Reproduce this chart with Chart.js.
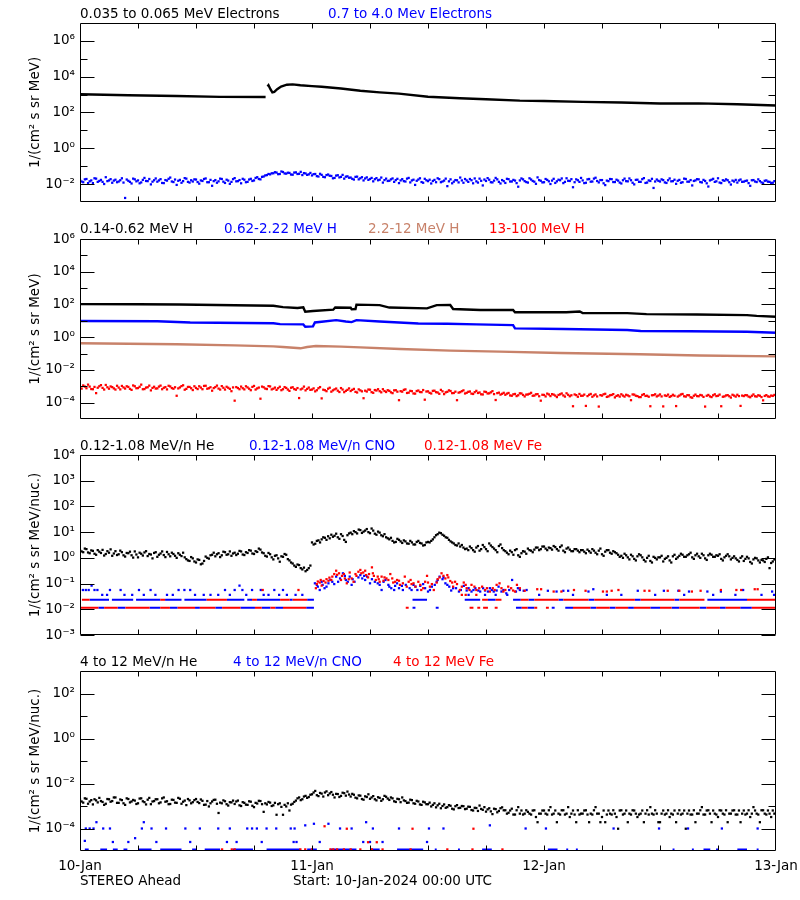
<!DOCTYPE html>
<html>
<head>
<meta charset="utf-8">
<title>STEREO Ahead particle fluxes</title>
<script src="https://cdn.jsdelivr.net/npm/chart.js@4.4.1/dist/chart.umd.min.js"></script>
<style>
  body { margin: 0; background: #fff; }
  #wrap { position: relative; width: 800px; height: 900px; background: #fff; overflow: hidden; }
  #wrap canvas { position: absolute; left: 0; }
</style>
</head>
<body>
<div id="wrap">
  <canvas id="electrons" width="800" height="215" style="top:0px"></canvas>
  <canvas id="protons" width="800" height="220" style="top:215px"></canvas>
  <canvas id="ionsLow" width="800" height="215" style="top:435px"></canvas>
  <canvas id="ionsHigh" width="800" height="250" style="top:650px"></canvas>
</div>
<script>
// time axis: hours since 10-Jan-2024 00:00 UTC
var dayLabels = ['10-Jan', '11-Jan', '12-Jan', '13-Jan'];
var dayHours = [0, 24, 48, 72];
var hourTicks = [6, 12, 18, 24, 30, 36, 42, 48, 54, 60, 66];
var STEP = 1 / 6; // noisy channels: one sample every 10 minutes

// y ticks, as powers of ten
var p1Major = [-2, 0, 2, 4, 6], p1Minor = [-1, 1, 3, 5];
var p2Major = [-4, -2, 0, 2, 4, 6], p2Minor = [-3, -1, 1, 3, 5];
var p3Major = [-3, -2, -1, 0, 1, 2, 3, 4], p3Minor = [];
var p4Major = [-4, -2, 0, 2], p4Minor = [-3, -1, 1];

// ---- panel 1: electrons (log10 of flux) ----
var eLowHours = [0, 5, 10, 14.5, 19.2, 19.35, 19.4, 19.5, 19.7, 19.9, 20.1, 20.4, 20.8, 21.4, 22.0, 22.8, 24, 25, 27, 29, 31, 33, 36, 39.3, 42, 45.5, 48, 52, 56, 60, 64, 68, 72];
var eLowLogs = [3.02, 2.96, 2.92, 2.87, 2.86, null, 3.45, 3.52, 3.3, 3.12, 3.15, 3.3, 3.45, 3.55, 3.57, 3.52, 3.47, 3.44, 3.34, 3.21, 3.12, 3.05, 2.88, 2.79, 2.74, 2.66, 2.64, 2.59, 2.56, 2.5, 2.51, 2.46, 2.39];
var eHighLogs = [
  -1.78,-1.86,-1.90,-1.74,-1.72,-1.95,-1.85,-1.80,-1.95,-1.68,-1.70,-1.88,-1.83,-1.77,-1.88,-2.00,-1.62,-1.84,-1.80,-1.73,-1.93,-1.81,-1.76,-1.90,
  -1.86,-1.79,-1.68,-1.92,-2.78,-1.75,-1.82,-1.88,-1.97,-1.70,-1.74,-1.85,-1.80,-1.96,-1.91,-1.77,-1.66,-1.83,-1.84,-1.72,-2.02,-1.87,-1.79,-1.69,
  -1.87,-1.80,-1.73,-1.94,-1.95,-1.78,-1.81,-1.71,-1.64,-1.86,-1.89,-1.75,-2.05,-1.82,-1.77,-1.93,-1.84,-1.67,-1.70,-1.88,-1.92,-1.79,-1.86,-1.74,
  -1.75,-1.89,-1.98,-1.80,-1.83,-1.72,-1.69,-1.90,-1.90,-1.77,-2.10,-1.84,-1.78,-1.93,-1.85,-1.70,-1.72,-1.87,-1.94,-1.76,-1.81,-1.99,-1.88,-1.73,
  -1.67,-1.85,-1.84,-1.78,-1.96,-1.71,-1.76,-1.90,-1.88,-1.75,-1.71,-1.83,-1.80,-1.66,-1.62,-1.72,-1.74,-1.60,-1.58,-1.52,-1.50,-1.44,-1.46,-1.40,
  -1.40,-1.34,-1.36,-1.45,-1.44,-1.30,-1.33,-1.41,-1.42,-1.37,-1.38,-1.47,-1.48,-1.36,-1.35,-1.44,-1.43,-1.32,-1.50,-1.39,-1.41,-1.49,-1.46,-1.38,
  -1.52,-1.45,-1.44,-1.56,-1.58,-1.43,-1.49,-1.60,-1.62,-1.50,-1.47,-1.54,-1.55,-1.68,-1.66,-1.53,-1.51,-1.63,-1.60,-1.49,-1.70,-1.59,-1.57,-1.65,
  -1.64,-1.71,-1.75,-1.60,-1.59,-1.74,-1.68,-1.62,-1.80,-1.69,-1.63,-1.77,-1.72,-1.66,-1.85,-1.73,-1.67,-1.79,-1.76,-1.64,-1.92,-1.78,-1.70,-1.83,
  -1.82,-1.74,-1.69,-1.88,-1.78,-1.71,-1.95,-1.80,-1.73,-1.84,-1.86,-1.70,-1.66,-1.91,-1.80,-1.76,-2.05,-1.82,-1.75,-1.68,-1.89,-1.93,-1.71,-1.79,
  -1.84,-1.76,-1.97,-1.83,-1.77,-1.90,-1.68,-1.73,-1.90,-1.86,-1.81,-1.70,-2.12,-1.85,-1.74,-1.96,-1.87,-1.78,-1.79,-1.91,-1.64,-1.80,-1.93,-1.72,
  -1.80,-1.88,-1.72,-1.79,-1.96,-1.69,-1.85,-1.92,-1.70,-1.82,-2.08,-1.75,-1.83,-1.67,-1.76,-1.90,-1.91,-1.81,-1.66,-1.74,-1.88,-1.97,-1.78,-1.84,
  -1.94,-1.71,-1.73,-1.86,-1.86,-1.77,-1.81,-1.95,-2.15,-1.80,-1.69,-1.74,-1.84,-1.89,-1.92,-1.68,-1.75,-1.83,-1.87,-1.99,-1.63,-1.78,-1.82,-1.91,
  -1.90,-1.72,-1.77,-1.85,-2.00,-1.81,-1.71,-1.94,-1.85,-1.76,-1.79,-1.69,-1.95,-1.88,-1.68,-1.82,-1.83,-1.73,-2.18,-1.90,-1.74,-1.79,-1.88,-1.66,
  -1.80,-1.95,-1.93,-1.74,-1.72,-1.87,-1.86,-1.70,-1.65,-1.83,-1.91,-1.78,-1.78,-1.96,-2.06,-1.81,-1.84,-1.72,-1.73,-1.89,-1.89,-1.76,-1.81,-1.92,
  -1.97,-1.79,-1.70,-1.84,-1.85,-1.69,-1.79,-1.93,-2.02,-1.77,-1.76,-1.88,-1.88,-1.73,-1.67,-1.94,-1.92,-1.80,-1.83,-1.71,-2.22,-1.86,-1.75,-1.82,
  -1.86,-1.74,-1.78,-1.91,-1.94,-1.79,-1.69,-1.85,-1.84,-1.76,-1.99,-1.82,-1.77,-1.93,-1.90,-1.70,-1.72,-1.87,-1.87,-1.78,-2.08,-1.83,-1.80,-1.73,
  -1.74,-1.89,-1.91,-1.77,-1.83,-1.96,-2.14,-1.80,-1.76,-1.71,-1.88,-1.85,-1.68,-1.92,-1.95,-1.79,-1.82,-1.74,-1.79,-1.90,-2.03,-1.81,-1.86,-1.77,
  -1.92,-1.80,-1.75,-1.88,-1.87,-1.83,-1.81,-1.95,-2.10,-1.79,-1.78,-1.86,-1.89,-1.74,-1.84,-1.91,-1.96,-1.82,-1.80,-1.87,-1.88,-1.94,-1.93,-1.84,
  -1.85];

// ---- panel 2: protons ----
var h014Hours = [0, 6, 10.3, 16, 20, 21, 22.5, 23.1, 23.3, 24.1, 26.2, 26.4, 28.0, 28.1, 28.5, 28.6, 31, 32, 35.9, 36.9, 38.3, 38.6, 41.4, 44.8, 45, 50.3, 51.7, 52, 56.6, 58.6, 63.8, 69, 70, 72];
var h014Logs = [2.02, 2.01, 2.0, 1.95, 1.92, 1.84, 1.78, 1.82, 1.56, 1.6, 1.68, 1.81, 1.8, 1.7, 1.72, 1.99, 1.96, 1.81, 1.76, 1.96, 1.97, 1.72, 1.66, 1.66, 1.52, 1.52, 1.57, 1.48, 1.47, 1.41, 1.39, 1.35, 1.3, 1.25];
var h062Hours = [0, 8, 11.4, 20, 20.7, 23.1, 23.3, 24.1, 24.3, 25, 26.5, 27.5, 28.1, 28.6, 31, 33, 35, 38, 41, 44.8, 45, 50, 56.6, 58, 63, 69, 72];
var h062Logs = [0.99, 0.97, 0.9, 0.85, 0.8, 0.78, 0.64, 0.66, 0.9, 0.94, 1.04, 0.96, 0.92, 1.04, 0.96, 0.9, 0.84, 0.82, 0.78, 0.74, 0.54, 0.5, 0.44, 0.38, 0.36, 0.33, 0.27];
var h22Hours = [0, 10, 16, 20, 21, 22.8, 23.5, 24.4, 27, 29, 33.1, 38.3, 43.4, 49.7, 57.9, 64.1, 72];
var h22Logs = [-0.37, -0.43, -0.5, -0.56, -0.6, -0.68, -0.6, -0.54, -0.58, -0.62, -0.72, -0.82, -0.88, -0.97, -1.04, -1.12, -1.17];
var h13Logs = [
  -3.05,-3.14,-2.95,-3.02,-3.12,-2.90,-3.02,-3.17,-3.18,-3.04,-3.42,-3.09,-3.00,-2.93,-3.10,-3.20,-2.92,-3.06,-3.15,-3.01,-3.05,-3.13,-3.20,-2.97,
  -3.08,-3.19,-2.98,-3.07,-3.14,-3.00,-3.04,-3.16,-3.22,-2.95,-3.00,-3.12,-3.11,-3.03,-2.90,-3.18,-3.17,-3.08,-3.06,-2.96,-3.25,-3.10,-3.03,-3.14,
  -3.13,-3.02,-2.96,-3.18,-3.09,-3.05,-3.19,-2.97,-3.01,-3.11,-3.15,-3.06,-3.58,-3.13,-3.07,-2.99,-2.94,-3.21,-3.16,-3.04,-3.04,-3.12,-3.23,-3.00,
  -3.10,-3.17,-3.00,-3.08,-3.18,-2.98,-2.97,-3.15,-3.12,-3.06,-3.27,-3.11,-3.05,-2.96,-3.14,-3.20,-2.99,-3.09,-3.20,-3.03,-3.09,-3.16,-3.30,-3.07,
  -3.88,-3.05,-3.11,-3.18,-3.02,-3.12,-3.19,-3.00,-3.07,-3.15,-3.24,-3.04,-2.98,-3.20,-3.13,-3.08,-3.76,-3.02,-3.06,-3.14,-3.17,-2.99,-3.01,-3.19,
  -3.15,-3.08,-3.22,-3.12,-3.03,-3.24,-3.18,-3.05,-3.10,-3.20,-3.28,-3.09,-3.06,-3.17,-3.21,-3.11,-3.72,-3.19,-3.14,-3.02,-3.25,-3.16,-3.08,-3.22,
  -3.20,-3.13,-3.31,-3.24,-3.12,-3.05,-3.74,-3.21,-3.24,-3.30,-3.15,-3.09,-3.33,-3.25,-3.19,-3.14,-3.27,-3.35,-3.11,-3.20,-3.36,-3.28,-3.22,-3.13,
  -3.29,-3.22,-3.16,-3.34,-3.38,-3.19,-3.25,-3.31,-3.73,-3.27,-3.32,-3.20,-3.21,-3.36,-3.40,-3.23,-3.26,-3.18,-3.30,-3.37,-3.18,-3.29,-3.35,-3.24,
  -3.28,-3.37,-3.42,-3.25,-3.24,-3.33,-3.85,-3.30,-3.33,-3.22,-3.19,-3.41,-3.39,-3.28,-3.30,-3.44,-3.45,-3.29,-3.26,-3.35,-3.36,-3.23,-3.82,-3.32,
  -3.31,-3.40,-3.44,-3.28,-3.27,-3.36,-3.38,-3.46,-3.22,-3.31,-3.48,-3.37,-3.34,-3.25,-3.29,-3.42,-3.41,-3.33,-3.85,-3.39,-3.36,-3.30,-3.25,-3.44,
  -3.40,-3.34,-3.32,-3.45,-3.47,-3.36,-3.28,-3.41,-3.38,-3.49,-3.50,-3.33,-3.35,-3.44,-3.43,-3.37,-3.30,-3.48,-3.84,-3.42,-3.39,-3.51,-3.46,-3.40,
  -3.52,-3.45,-3.41,-3.56,-3.58,-3.49,-3.47,-3.60,-3.55,-3.43,-3.44,-3.53,-3.62,-3.51,-3.50,-3.46,-3.40,-3.58,-3.57,-3.49,-3.48,-3.61,-3.88,-3.52,
  -3.53,-3.62,-3.45,-3.50,-3.60,-3.48,-3.51,-3.57,-3.66,-3.53,-3.49,-3.44,-3.56,-3.63,-3.43,-3.52,-3.61,-3.55,-4.22,-3.50,-3.54,-3.64,-3.47,-3.58,
  -3.58,-3.51,-4.20,-3.60,-3.52,-3.47,-3.64,-3.56,-3.50,-3.62,-4.24,-3.54,-3.57,-3.49,-3.46,-3.65,-3.62,-3.55,-3.53,-3.48,-3.68,-3.59,-3.55,-3.63,
  -3.49,-3.57,-3.63,-3.52,-3.56,-3.61,-3.85,-3.50,-3.51,-3.58,-3.60,-3.66,-3.66,-3.53,-3.48,-3.59,-3.58,-3.64,-4.22,-3.55,-3.54,-3.49,-3.62,-3.57,
  -3.50,-3.62,-4.23,-3.56,-3.59,-3.51,-3.65,-3.60,-3.52,-3.58,-4.21,-3.63,-3.57,-3.50,-3.47,-3.61,-3.63,-3.54,-3.55,-3.67,-3.70,-3.58,-3.51,-3.60,
  -3.61,-3.53,-3.56,-3.65,-4.24,-3.58,-3.53,-3.62,-3.66,-3.55,-3.49,-3.60,-3.58,-3.51,-4.22,-3.64,-3.62,-3.56,-3.54,-3.61,-3.69,-3.52,-3.57,-3.63,
  -3.52,-3.60,-4.20,-3.57,-3.60,-3.54,-3.55,-3.63,-3.67,-3.58,-3.50,-3.61,-3.63,-3.55,-3.58,-3.66,-3.86,-3.59,-3.54,-3.62,-3.64,-3.57,-3.59,-3.53,
  -3.56];

// ---- panel 3: 0.12-1.08 MeV/n ions ----
var heLowLogs = [
  0.30,0.25,0.22,0.36,0.34,0.21,0.18,0.29,0.27,0.16,0.12,0.30,0.24,0.19,0.31,0.09,0.15,0.26,0.20,0.33,0.08,0.17,0.26,0.11,
  0.14,0.28,0.22,0.10,0.05,0.19,0.18,0.24,0.10,0.01,0.25,0.13,0.02,0.20,0.16,0.09,0.21,0.26,0.07,0.15,0.13,-0.02,0.19,0.22,
  0.04,0.12,0.17,0.25,0.11,0.03,0.23,0.14,0.06,0.20,0.15,0.08,0.00,0.18,0.12,0.07,0.20,0.02,-0.05,-0.10,-0.12,0.03,-0.02,-0.14,
  -0.18,-0.06,-0.08,-0.25,-0.22,-0.12,0.05,0.00,-0.03,0.10,0.12,0.20,0.06,0.14,0.18,0.03,0.10,0.24,0.22,0.12,0.14,0.25,0.08,0.17,
  0.20,0.11,0.16,0.27,0.25,0.13,0.11,0.22,0.19,0.30,0.28,0.17,0.15,0.26,0.23,0.36,0.32,0.21,0.18,0.08,0.05,0.19,0.14,0.02,
  -0.06,0.08,0.10,-0.02,-0.15,0.06,0.04,0.15,0.12,-0.05,-0.10,-0.18,-0.22,-0.30,-0.35,-0.26,-0.28,-0.40,-0.45,-0.38,-0.52,-0.47,-0.40,-0.30,
  0.60,0.52,0.55,0.66,0.68,0.60,0.72,0.80,0.78,0.70,0.84,0.76,0.90,0.82,0.86,0.94,0.80,0.74,0.92,0.85,0.70,0.62,0.88,0.95,
  0.98,0.92,1.04,1.00,0.95,1.10,1.08,0.97,1.02,1.06,1.12,1.00,0.96,1.14,1.06,0.94,0.90,1.02,0.98,0.88,0.84,0.92,0.80,0.76,
  0.72,0.78,0.66,0.60,0.62,0.74,0.70,0.64,0.58,0.68,0.64,0.56,0.55,0.66,0.60,0.52,0.52,0.62,0.66,0.58,0.56,0.48,0.50,0.60,
  0.62,0.60,0.66,0.72,0.80,0.88,0.92,0.98,0.96,0.90,0.86,0.80,0.78,0.70,0.64,0.60,0.56,0.50,0.48,0.56,0.44,0.50,0.40,0.34,
  0.36,0.30,0.44,0.38,0.30,0.24,0.40,0.46,0.28,0.34,0.50,0.42,0.34,0.26,0.56,0.48,0.42,0.36,0.30,0.22,0.46,0.52,0.38,0.30,
  0.26,0.20,0.14,0.28,0.22,0.12,0.30,0.34,0.10,0.04,0.18,0.26,0.24,0.16,0.36,0.30,0.28,0.22,0.32,0.40,0.40,0.30,0.34,0.44,
  0.44,0.36,0.30,0.40,0.38,0.32,0.46,0.42,0.34,0.28,0.42,0.48,0.28,0.22,0.36,0.40,0.32,0.26,0.26,0.34,0.34,0.28,0.22,0.30,
  0.30,0.24,0.18,0.32,0.26,0.20,0.34,0.28,0.20,0.14,0.28,0.36,0.14,0.08,0.24,0.30,0.30,0.20,0.16,0.26,0.22,0.18,0.12,0.04,
  0.08,0.00,0.16,0.10,0.02,-0.06,0.12,0.06,-0.04,-0.10,0.06,0.14,0.10,0.02,-0.08,-0.14,0.00,0.08,-0.12,-0.18,0.04,0.00,-0.06,0.02,
  0.02,0.08,-0.14,-0.04,0.00,0.06,-0.10,-0.18,0.06,0.12,-0.04,0.02,0.08,0.16,0.12,0.04,0.04,0.10,0.14,0.20,0.02,-0.04,0.10,0.16,
  0.06,0.00,0.16,0.10,-0.02,-0.08,0.10,0.16,0.12,0.04,0.04,0.10,0.08,0.14,-0.04,-0.10,0.02,0.08,0.14,0.06,-0.06,0.00,0.06,-0.02,
  -0.08,-0.14,0.00,0.06,-0.12,-0.04,0.04,-0.02,-0.16,-0.22,-0.06,0.00,-0.02,-0.10,-0.18,-0.08,-0.10,-0.16,-0.04,0.02,-0.40,-0.20,-0.14,-0.06,
  -0.08];
// [hour, log10 flux] for the scattered CNO and Fe samples
var cnoLowPoints = [
  [0.3,-1.25],[0.6,-1.25],[0.9,-1.25],[1.2,-1.08],[1.5,-1.25],[1.8,-1.25],[2.3,-1.44],[2.8,-1.44],[3.1,-1.25],[4.2,-1.25],
  [4.6,-1.44],[5.4,-1.44],[6.1,-1.25],[6.6,-1.44],[7.3,-1.25],[7.8,-1.44],[9.0,-1.44],[9.6,-1.44],[10.2,-1.25],[10.8,-1.25],
  [11.4,-1.25],[11.9,-1.44],[12.8,-1.44],[13.5,-1.44],[14.3,-1.44],[15.0,-1.25],[15.5,-1.44],[16.0,-1.25],[16.5,-1.08],[16.8,-1.25],
  [17.2,-1.44],[17.8,-1.25],[18.7,-1.25],[19.0,-1.44],[19.5,-1.44],[20.1,-1.25],[20.6,-1.44],[21.0,-1.25],[21.4,-1.44],[22.3,-1.44],[23.0,-1.44],
  [24.3,-0.99],[24.6,-1.12],[24.8,-1.25],[25.1,-1.05],[25.3,-1.18],[25.7,-0.99],[26.1,-0.93],[26.5,-0.73],[26.7,-0.93],[27.2,-0.60],
  [27.5,-0.86],[27.9,-0.73],[28.1,-1.05],[28.4,-0.93],[29.0,-0.67],[29.2,-0.80],[29.5,-0.86],[29.7,-0.73],[30.0,-0.99],[30.5,-0.93],
  [31.0,-1.05],[31.2,-1.25],[31.6,-0.86],[31.9,-1.05],[32.2,-1.18],[32.5,-1.25],[32.8,-0.99],[33.3,-1.09],[33.4,-1.25],[34.1,-1.18],
  [34.5,-1.05],[34.9,-1.25],[35.2,-1.09],[35.7,-1.18],[36.0,-1.31],[36.4,-1.12],[36.9,-0.93],[37.2,-0.73],[37.5,-0.83],[37.8,-0.99],
  [38.2,-1.12],[38.4,-1.27],[38.9,-1.18],[39.2,-1.31],[39.7,-1.09],[40.0,-1.27],[40.5,-1.31],[40.9,-1.18],[41.4,-1.31],[41.9,-1.27],
  [42.4,-1.18],[42.8,-1.31],[43.3,-1.12],[43.8,-1.25],[44.1,-1.38],[44.7,-0.86],[45.1,-1.31],[45.5,-1.25],
  [24.5,-1.05],[25.0,-0.93],[25.5,-1.12],[25.9,-0.86],[26.3,-1.02],[26.9,-0.80],[27.4,-0.70],[27.7,-0.93],[28.2,-0.83],[28.8,-0.76],
  [29.4,-0.70],[30.2,-0.83],[30.8,-0.99],[31.4,-0.93],[32.0,-1.12],[32.6,-1.09],[33.0,-1.18],[33.7,-1.05],[34.3,-1.25],[34.7,-1.12],
  [35.5,-1.02],[36.2,-1.25],[36.7,-1.05],[37.0,-0.86],[37.6,-0.76],[38.0,-1.05],[38.6,-1.18],[39.4,-1.25],[40.2,-1.18],[40.7,-1.25],
  [41.2,-1.27],[41.7,-1.18],[42.2,-1.31],[42.6,-1.25],[43.1,-1.27],[43.6,-1.31],[44.4,-1.25],[45.3,-1.18],
  [40.2,-1.44],[41.9,-1.44],[43.0,-1.44],[44.2,-1.44],[45.9,-1.28],[46.2,-1.25],[47.5,-1.44],[48.4,-1.28],[49.3,-1.31],[50.0,-1.28],
  [50.5,-1.28],[51.0,-1.44],[52.6,-1.31],[53.1,-1.22],[54.5,-1.44],[56.0,-1.44],[57.7,-1.28],[59.5,-1.44],[60.4,-1.28],[61.9,-1.28],
  [62.5,-1.44],[63.0,-1.31],[64.9,-1.31],[65.5,-1.44],[66.3,-1.31],[67.8,-1.44],[68.6,-1.25],[70.5,-1.44],[71.6,-1.31],[71.8,-1.44]];
var feLowPoints = [
  [18.9,-1.25],[22.6,-1.25],
  [24.4,-1.18],[24.6,-0.92],[24.9,-0.86],[25.2,-0.90],[25.5,-0.83],[25.8,-0.77],[26.0,-0.86],[26.3,-0.63],[26.5,-0.50],[26.8,-0.60],
  [27.1,-0.70],[27.4,-0.80],[27.6,-0.99],[27.9,-0.57],[28.3,-0.93],[28.6,-0.70],[28.8,-0.54],[29.0,-0.47],[29.3,-0.57],[29.6,-0.67],
  [29.8,-0.76],[30.2,-0.37],[30.3,-0.60],[30.6,-0.86],[30.9,-0.83],[31.2,-0.73],[31.4,-0.89],[31.7,-0.80],[32.1,-0.63],[32.4,-0.96],
  [32.8,-0.86],[33.1,-1.05],[33.6,-0.73],[33.8,-1.12],[34.0,-0.93],[34.3,-1.02],[34.7,-1.12],[35.0,-0.93],[35.3,-1.25],[35.5,-1.18],
  [35.9,-0.70],[36.2,-1.12],[36.6,-1.25],[36.9,-0.96],[37.2,-0.76],[37.4,-0.60],[37.8,-0.80],[38.0,-0.67],[38.3,-0.90],[38.6,-1.12],
  [39.0,-1.02],[39.3,-1.25],[39.7,-0.96],[40.0,-1.18],[40.5,-1.05],[41.0,-1.25],[41.6,-1.12],[42.1,-1.18],[42.4,-1.31],[42.9,-1.25],
  [43.4,-0.99],[43.8,-1.31],[44.3,-1.12],[44.8,-1.27],[45.2,-1.05],[45.5,-1.18],
  [24.5,-1.02],[24.8,-0.96],[25.0,-1.08],[25.4,-0.96],[25.7,-0.89],[26.1,-0.73],[26.6,-0.66],[27.0,-0.86],[27.3,-0.63],[27.8,-0.83],
  [28.1,-0.80],[28.5,-0.63],[29.1,-0.60],[29.5,-0.50],[29.9,-0.63],[30.4,-0.70],[30.8,-0.73],[31.0,-0.93],[31.5,-0.76],[31.9,-0.86],
  [32.3,-0.80],[32.6,-0.93],[33.0,-0.89],[33.4,-0.99],[34.2,-0.86],[34.5,-0.99],[35.2,-1.05],[35.7,-0.93],[36.0,-0.96],[36.4,-1.02],
  [37.0,-0.83],[37.6,-0.70],[38.1,-0.76],[38.5,-0.96],[38.8,-0.93],[39.5,-1.12],[39.9,-1.05],[40.3,-1.25],[40.8,-1.12],[41.3,-1.18],
  [41.9,-1.25],[42.7,-1.18],[43.1,-1.05],[43.6,-1.18],[44.0,-1.25],[44.6,-1.18],[45.0,-1.31],
  [39.5,-1.44],[39.9,-1.44],[41.0,-1.44],[46.0,-1.28],[47.3,-1.22],[47.7,-1.22],[49.0,-1.31],[49.8,-1.31],[51.1,-1.25],[52.3,-1.28],
  [54.1,-1.31],[54.5,-1.31],[55.0,-1.28],[55.7,-1.25],[58.4,-1.28],[58.9,-1.28],[60.8,-1.28],[62.0,-1.28],[63.3,-1.31],[64.2,-1.28],
  [66.3,-1.25],[67.9,-1.25],[68.4,-1.25],[69.8,-1.22],[70.1,-1.22]];
// one- and two-count floors: [start hour, end hour] runs at a fixed level
var countFloor1 = -1.94, countFloor2 = -1.63;
var cnoFloor1Runs = [[1.9,2.5],[3.9,4.7],[7.2,8.3],[9.3,10.1],[11.9,12.4],[14.0,14.7],[16.6,18.1],[18.8,19.7],[20.2,21.0],[23.4,24.2],
  [34.4,34.7],[36.8,37.1],[45.1,45.7],[46.3,47.0],[48.8,49.1],[50.2,51.0],[52.8,53.4],[54.8,55.4],[56.7,57.3],[59.0,60.0],[61.2,62.0],[64.1,64.8],[66.2,66.8],[68.3,69.5]];
var feFloor1Runs = [[0,1.9],[2.5,3.9],[4.7,7.2],[8.3,9.3],[10.1,11.9],[12.4,14.0],[14.7,16.6],[18.1,18.8],[19.7,20.2],[21.0,23.4],
  [33.7,34.0],[40.3,40.7],[41.1,41.4],[41.7,42.2],[42.9,43.2],[45.7,46.3],[47.0,47.3],[48.2,48.5],[51.0,52.8],[53.4,54.8],[55.4,56.7],[57.3,59.0],[60.0,61.2],[62.0,64.1],[64.8,66.2],[66.8,68.3],[69.5,72]];
var cnoFloor2Runs = [[1.0,3.0],[3.3,5.5],[5.8,8.3],[8.8,10.5],[10.8,13.1],[15.2,17.0],[17.3,17.8],[18.3,20.7],[21.7,22.0],[23.5,24.2],
  [34.4,35.9],[39.8,41.4],[42.2,43.0],[44.8,45.6],[46.4,47.0],[49.5,50.0],[52.6,53.2],[57.4,58.0],[61.5,62.0],[64.9,69.0]];
var feFloor2Runs = [[0.2,1.0],[8.3,8.8],[13.1,15.2],[17.8,18.3],[20.7,21.7],[22.0,23.5],
  [41.6,42.2],[43.0,43.6],[45.6,46.4],[47.0,49.5],[50.0,52.6],[53.2,57.4],[58.0,61.5],[62.0,64.6],[69.0,72]];

// ---- panel 4: 4-12 MeV/n ions ----
var heHighLogs = [
  -2.72,-2.80,-2.85,-2.66,-2.68,-2.90,-2.80,-2.74,-2.93,-2.70,-2.75,-2.84,-2.64,-2.78,-2.82,-2.95,-2.90,-2.69,-2.70,-2.81,-2.78,-2.62,-2.62,-2.86,
  -2.86,-2.71,-2.74,-2.88,-2.95,-2.66,-2.69,-2.84,-2.80,-2.73,-2.76,-2.91,-2.88,-2.67,-2.66,-2.79,-2.83,-2.93,-2.72,-2.64,-2.92,-2.80,-2.78,-2.70,
  -2.70,-2.88,-2.84,-2.66,-2.62,-2.81,-2.79,-2.92,-2.91,-2.72,-2.73,-2.85,-2.86,-2.64,-2.68,-2.90,-2.81,-2.76,-2.96,-2.69,-2.75,-2.88,-2.83,-2.74,
  -2.69,-2.82,-2.87,-2.71,-2.77,-2.95,-2.94,-2.78,-3.02,-2.88,-2.80,-2.73,-2.72,-2.90,-3.31,-2.85,-2.88,-2.75,-2.79,-2.92,-2.98,-2.83,-2.84,-2.76,
  -2.91,-2.80,-2.76,-2.97,-3.00,-2.83,-2.86,-2.94,-2.95,-2.79,-2.81,-2.99,-3.05,-2.86,-2.89,-2.77,-2.78,-2.92,-3.26,-2.88,-2.93,-2.82,-2.85,-3.00,
  -2.97,-2.86,-3.39,-2.92,-2.88,-3.04,-3.39,-2.95,-3.02,-2.88,-3.20,-2.94,-2.90,-2.82,-2.76,-2.66,-2.62,-2.74,-2.70,-2.58,-2.55,-2.64,-2.60,-2.50,
  -2.48,-2.40,-2.33,-2.52,-2.56,-2.42,-2.45,-2.58,-2.40,-2.35,-2.52,-2.44,-2.38,-2.50,-2.62,-2.46,-2.47,-2.60,-2.55,-2.41,-2.43,-2.54,-2.36,-2.49,
  -2.58,-2.46,-2.50,-2.63,-2.66,-2.53,-2.54,-2.69,-2.72,-2.57,-2.60,-2.48,-2.68,-2.62,-2.56,-2.70,-2.75,-2.61,-2.64,-2.77,-2.70,-2.55,-2.59,-2.67,
  -2.73,-2.62,-2.66,-2.79,-2.82,-2.68,-2.70,-2.83,-2.62,-2.75,-2.78,-2.86,-2.85,-2.72,-2.74,-2.88,-2.90,-2.77,-2.80,-2.93,-2.95,-2.81,-2.84,-2.92,
  -2.92,-2.85,-3.02,-2.95,-2.88,-3.06,-2.97,-2.90,-3.10,-3.00,-2.93,-3.08,-3.05,-2.96,-2.99,-3.12,-3.15,-3.01,-2.96,-3.09,-3.08,-3.00,-3.01,-3.14,
  -3.12,-3.03,-3.04,-3.18,-3.20,-3.08,-3.09,-3.22,-2.98,-3.13,-3.17,-3.05,-3.25,-3.15,-3.10,-3.24,-3.36,-3.12,-3.14,-3.28,-3.22,-3.10,-3.06,-3.19,
  -3.19,-3.34,-3.30,-3.20,-3.12,-3.38,-3.38,-3.19,-3.05,-3.34,-3.20,-3.38,-3.34,-3.19,-3.26,-3.34,-3.38,-3.20,-3.19,-3.49,-3.72,-3.34,-3.34,-3.20,
  -3.20,-3.34,-3.38,-3.19,-3.05,-3.38,-3.34,-3.20,-3.72,-3.34,-3.38,-3.19,-3.19,-3.38,-3.34,-3.05,-3.49,-3.34,-3.20,-3.38,-3.72,-3.19,-3.38,-3.34,
  -3.34,-3.20,-3.19,-3.38,-3.72,-3.34,-3.38,-3.19,-3.05,-3.34,-3.34,-3.72,-3.49,-3.20,-3.72,-3.38,-3.20,-3.34,-3.38,-3.19,-3.34,-3.49,-4.01,-3.20,
  -3.19,-3.38,-3.34,-3.20,-3.72,-3.34,-3.38,-3.19,-3.20,-3.34,-3.49,-3.38,-3.34,-3.20,-3.72,-3.34,-3.19,-3.38,-3.05,-3.34,-3.38,-3.19,-3.34,-3.72,
  -3.72,-3.34,-3.20,-3.38,-3.34,-3.19,-3.49,-3.34,-3.38,-3.20,-3.72,-3.34,-3.19,-3.38,-3.34,-3.20,-4.01,-3.34,-3.20,-3.38,-3.38,-3.19,-3.72,-3.34,
  -3.34,-3.19,-3.05,-3.38,-3.38,-3.20,-3.19,-3.34,-3.72,-3.20,-3.34,-3.38,-3.49,-3.19,-3.20,-3.34,-3.38,-3.19,-3.72,-3.34,-3.34,-3.20,-3.19,-3.38,
  -3.38,-3.20,-3.72,-3.34,-3.20,-3.38,-3.34,-3.19,-3.49,-3.34,-3.05,-3.20,-3.34,-3.38,-3.72,-3.19,-3.19,-3.34,-3.38,-3.20,-3.34,-3.49,-3.20,-3.34,
  -3.30];
var cnoHighPoints = [
  [0.6,-4.0],[1.0,-4.0],[1.4,-4.0],[1.7,-3.72],[2.4,-4.0],[3.1,-4.0],[6.4,-4.0],[6.6,-3.72],[7.4,-4.0],[8.9,-4.0],
  [10.9,-4.0],[12.4,-4.0],[14.3,-4.0],[15.5,-4.0],[17.3,-4.0],[17.8,-4.0],[18.3,-4.0],[19.3,-4.0],[20.3,-4.0],[21.8,-4.0],
  [22.2,-4.0],[23.3,-3.86],[24.2,-3.79],[25.7,-3.79],[26.9,-4.0],[28.1,-4.0],[29.6,-3.72],[30.3,-4.0],[33.0,-4.0],[36.1,-4.0],
  [37.6,-4.0],[42.4,-3.86],[46.1,-4.0],[48.2,-4.0],[55.2,-4.0],[59.9,-4.0],[62.9,-4.0],[66.4,-4.0],[70.1,-4.0],
  [0.5,-4.55],[3.4,-4.6],[5.0,-4.6],[5.7,-4.43],[7.9,-4.6],[11.4,-4.6],[15.2,-4.6],[16.2,-4.6],[18.8,-4.6],[22.1,-4.6],
  [22.4,-4.6],[24.8,-4.6],[29.3,-4.6],[30.0,-4.6],[31.3,-4.6],[35.9,-4.6]];
var feHighPoints = [
  [14.7,-4.93],[15.7,-4.93],[16.0,-4.93],[22.8,-4.93],[23.3,-4.93],[24.0,-4.93],[25.3,-3.9],[25.9,-4.93],[26.2,-4.93],[26.6,-4.93],
  [27.3,-4.93],[27.6,-4.01],[28.0,-4.93],[29.0,-4.93],[29.8,-4.61],[30.2,-4.93],[30.7,-4.61],[31.3,-4.93],[34.2,-4.93],[34.4,-4.01],
  [38.0,-4.93],[40.6,-4.93],[40.7,-4.01],[43.7,-4.93]];
var cnoHighFloor = -4.93;
var cnoHighFloorRuns = [[0.5,0.9],[2.1,2.8],[3.4,3.9],[4.5,4.9],[6.0,7.4],[8.3,10.5],[11.6,12.1],[12.9,14.5],[15.8,17.9],[19.3,22.8],
  [23.5,24.5],[25.9,28.6],[30.0,31.0],[32.8,35.5],[36.7,36.9],[39.1,39.3],[41.6,42.6],[48.4,49.4],[50.3,50.5],[51.3,51.5],
  [61.3,61.5],[63.3,63.5],[64.5,65.2],[65.8,66.0],[68.0,69.0],[70.0,70.2]];

var BLUE = '#0000ff', RED = '#ff0000', BROWN = '#c8826a';
var FONT = '13.5px "DejaVu Sans"';
Chart.defaults.font.family = '"DejaVu Sans", sans-serif';
Chart.defaults.font.size = 13.5;
Chart.defaults.color = '#000';

function lineData(hours, logs) {
  return hours.map(function(h, i) {
    return { x: h, y: logs[i] === null ? null : Math.pow(10, logs[i]) };
  });
}
function sampled(logs) {
  return logs.map(function(v, i) { return { x: i * STEP, y: Math.pow(10, v) }; });
}
function pairs(list) {
  return list.map(function(p) { return { x: p[0], y: Math.pow(10, p[1]) }; });
}
function runData(runs, level) {
  var out = [];
  runs.forEach(function(r) {
    out.push({ x: r[0], y: Math.pow(10, level) }, { x: r[1], y: Math.pow(10, level) }, { x: r[1], y: null });
  });
  return out;
}
function dots(data, color) {
  return { type: 'scatter', data: data, showLine: false, pointStyle: 'rect', pointRadius: 1.6,
    pointBorderWidth: 0, pointBackgroundColor: color, pointBorderColor: color };
}
function trace(data, color, width) {
  return { type: 'line', data: data, borderColor: color, borderWidth: width, pointRadius: 0,
    fill: false, tension: 0, spanGaps: false };
}

var SUP = { '-': '\u207B', '0': '\u2070', '1': '\u00B9', '2': '\u00B2', '3': '\u00B3', '4': '\u2074',
  '5': '\u2075', '6': '\u2076', '7': '\u2077', '8': '\u2078', '9': '\u2079' };
function sup(n) {
  return String(n).split('').map(function(c) { return SUP[c]; }).join('');
}

// IDL style box: inward ticks on all four sides, panel captions
var idlFrame = {
  id: 'idlFrame',
  afterDatasetsDraw: function(chart, args, o) {
    var ctx = chart.ctx, a = chart.chartArea, xs = chart.scales.x, ys = chart.scales.y;
    var l = Math.round(a.left) + 0.5, r = Math.round(a.right) - 0.5;
    var t = Math.round(a.top) + 0.5, b = Math.round(a.bottom) - 0.5;
    ctx.save();
    ctx.strokeStyle = '#000';
    ctx.lineWidth = 1;
    ctx.beginPath();
    ctx.rect(l, t, r - l, b - t);
    function yTicks(list, len) {
      list.forEach(function(e) {
        var py = Math.round(ys.getPixelForValue(Math.pow(10, e))) + 0.5;
        ctx.moveTo(l, py); ctx.lineTo(l + len, py);
        ctx.moveTo(r, py); ctx.lineTo(r - len, py);
      });
    }
    yTicks(o.major, 14);
    yTicks(o.minor, 7);
    hourTicks.forEach(function(h) {
      var px = Math.round(xs.getPixelForValue(h)) + 0.5;
      ctx.moveTo(px, t); ctx.lineTo(px, t + 5);
      ctx.moveTo(px, b); ctx.lineTo(px, b - 5);
    });
    ctx.stroke();
    ctx.font = FONT;
    ctx.textBaseline = 'alphabetic';
    ctx.textAlign = 'left';
    o.labels.forEach(function(lb) {
      ctx.fillStyle = lb.color;
      ctx.fillText(lb.text, lb.x, lb.y);
    });
    ctx.restore();
  }
};

function yAxis(lo, hi, major, title) {
  return {
    type: 'logarithmic', min: Math.pow(10, lo), max: Math.pow(10, hi),
    grid: { display: false, drawTicks: false }, border: { display: false },
    afterBuildTicks: function(s) { s.ticks = major.map(function(e) { return { value: Math.pow(10, e) }; }); },
    afterFit: function(s) { s.width = 80; },
    ticks: { autoSkip: false, padding: 5, color: '#000',
      callback: function(v) { return '10' + sup(Math.round(Math.log10(v))); } },
    title: { display: true, text: title, color: '#000', padding: { top: 27, bottom: 0 } }
  };
}
function xAxis(withDates) {
  return {
    type: 'linear', min: 0, max: 72, display: withDates,
    grid: { display: false, drawTicks: false }, border: { display: false },
    afterBuildTicks: function(s) { s.ticks = dayHours.map(function(h) { return { value: h }; }); },
    afterFit: function(s) {
      if (!withDates) return;
      s.height = 49;
      s.paddingLeft = 0;
      s.paddingRight = 0;
    },
    ticks: { autoSkip: false, maxRotation: 0, padding: 7, color: '#000',
      callback: function(v) { return dayLabels[dayHours.indexOf(v)]; } }
  };
}
function panel(id, pad, y, datasets, major, minor, labels, withDates) {
  return new Chart(document.getElementById(id), {
    type: 'scatter',
    data: { datasets: datasets },
    options: {
      responsive: false, animation: false, devicePixelRatio: 1, events: [],
      layout: { padding: pad },
      plugins: { legend: { display: false }, tooltip: { enabled: false },
        idlFrame: { major: major, minor: minor, labels: labels } },
      scales: { x: xAxis(withDates), y: y }
    },
    plugins: [idlFrame]
  });
}

var fluxUnit = '1/(cm\u00B2 s sr MeV)';
var nucUnit = '1/(cm\u00B2 s sr MeV/nuc.)';

panel('electrons', { left: 0, right: 24, top: 23, bottom: 12 }, yAxis(-3, 7, p1Major, fluxUnit), [
  trace(lineData(eLowHours, eLowLogs), '#000', 2.4),
  dots(sampled(eHighLogs), BLUE)
], p1Major, p1Minor, [
  { text: '0.035 to 0.065 MeV Electrons', color: '#000', x: 80, y: 18 },
  { text: '0.7 to 4.0 Mev Electrons', color: BLUE, x: 328, y: 18 }
], false);

panel('protons', { left: 0, right: 24, top: 24, bottom: 16 }, yAxis(-5, 6, p2Major, fluxUnit), [
  trace(lineData(h014Hours, h014Logs), '#000', 2.4),
  trace(lineData(h062Hours, h062Logs), BLUE, 2.4),
  trace(lineData(h22Hours, h22Logs), BROWN, 2.4),
  dots(sampled(h13Logs), RED)
], p2Major, p2Minor, [
  { text: '0.14-0.62 MeV H', color: '#000', x: 80, y: 18 },
  { text: '0.62-2.22 MeV H', color: BLUE, x: 224, y: 18 },
  { text: '2.2-12 MeV H', color: BROWN, x: 368, y: 18 },
  { text: '13-100 MeV H', color: RED, x: 489, y: 18 }
], false);

panel('ionsLow', { left: 0, right: 24, top: 20, bottom: 15 }, yAxis(-3, 4, p3Major, nucUnit), [
  dots(pairs(feLowPoints), RED),
  trace(runData(feFloor1Runs, countFloor1), RED, 2),
  trace(runData(feFloor2Runs, countFloor2), RED, 2),
  dots(pairs(cnoLowPoints), BLUE),
  trace(runData(cnoFloor1Runs, countFloor1), BLUE, 2),
  trace(runData(cnoFloor2Runs, countFloor2), BLUE, 2),
  dots(sampled(heLowLogs), '#000')
], p3Major, p3Minor, [
  { text: '0.12-1.08 MeV/n He', color: '#000', x: 80, y: 15 },
  { text: '0.12-1.08 MeV/n CNO', color: BLUE, x: 249, y: 15 },
  { text: '0.12-1.08 MeV Fe', color: RED, x: 424, y: 15 }
], false);

panel('ionsHigh', { left: 0, right: 24, top: 21, bottom: 0 }, yAxis(-5, 3, p4Major, nucUnit), [
  dots(pairs(feHighPoints), RED),
  dots(pairs(cnoHighPoints), BLUE),
  trace(runData(cnoHighFloorRuns, cnoHighFloor), BLUE, 2),
  dots(sampled(heHighLogs), '#000')
], p4Major, p4Minor, [
  { text: '4 to 12 MeV/n He', color: '#000', x: 80, y: 16 },
  { text: '4 to 12 MeV/n CNO', color: BLUE, x: 233, y: 16 },
  { text: '4 to 12 MeV Fe', color: RED, x: 393, y: 16 },
  { text: 'STEREO Ahead', color: '#000', x: 80, y: 235 },
  { text: 'Start: 10-Jan-2024 00:00 UTC', color: '#000', x: 293, y: 235 }
], true);
</script>
</body>
</html>
